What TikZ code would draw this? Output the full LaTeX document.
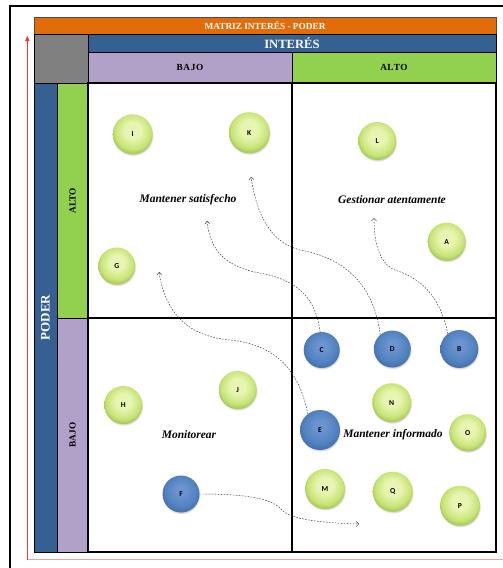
\documentclass[tikz,border=0pt]{standalone}
\usepackage{fontspec}
\setmainfont{Liberation Serif}
\newfontfamily\ballfont{Carlito}
\usetikzlibrary{arrows.meta,shadows,fadings}

% header and band colours
\definecolor{hdrOrange}{RGB}{227,108,10}
\definecolor{hdrBlue}{RGB}{54,96,146}
\definecolor{hdrGray}{RGB}{128,128,128}
\definecolor{lowPurple}{RGB}{177,160,199}
\definecolor{highGreen}{RGB}{146,208,80}
\definecolor{axisRed}{RGB}{235,60,60}
\definecolor{axisPink}{RGB}{244,160,160}

% sphere colours for the stakeholder bubbles
\definecolor{gsTop}{RGB}{232,245,178}
\definecolor{gsMid}{RGB}{200,228,118}
\definecolor{gsRim}{RGB}{158,198,78}
\definecolor{bsTop}{RGB}{108,148,208}
\definecolor{bsMid}{RGB}{82,131,192}
\definecolor{bsRim}{RGB}{66,108,170}

\pgfdeclareradialshading{greensphere}{\pgfpoint{0bp}{6bp}}{%
  color(0bp)=(gsTop); color(10bp)=(gsTop); color(22bp)=(gsMid);
  color(28bp)=(gsRim); color(50bp)=(gsRim)}
\pgfdeclareradialshading{bluesphere}{\pgfpoint{0bp}{6bp}}{%
  color(0bp)=(bsTop); color(6bp)=(bsTop); color(20bp)=(bsMid);
  color(29bp)=(bsRim); color(50bp)=(bsRim)}

\tikzset{
  cell/.style={anchor=north west, draw=black, line width=1pt,
    inner sep=0pt, outer sep=0pt},
  hdrtext/.style={font=\bfseries\fontsize{9.3}{10}\selectfont},
  bigtext/.style={font=\bfseries\fontsize{12.6}{14}\selectfont, text=white},
  quadlabel/.style={font=\bfseries\itshape\fontsize{11.5}{13}\selectfont},
  ball/.style={circle, minimum size=38pt, inner sep=0pt,
    font=\ballfont\bfseries\fontsize{7.6}{8}\selectfont,
    circular drop shadow={shadow scale=1.03, shadow xshift=0.4pt,
      shadow yshift=-1.2pt, opacity=0.35, fill=black!70}},
  gball/.style={ball, shading=greensphere},
  bball/.style={ball, shading=bluesphere},
  flow/.style={draw=black!80, line width=0.45pt,
    dash pattern=on 1.6pt off 1.4pt,
    -{Straight Barb[length=2.5pt,width=5pt]}},
}

\begin{document}
\begin{tikzpicture}[x=1pt,y=-1pt]
\useasboundingbox (0,0) rectangle (503,568);
\fill[white] (0,0) rectangle (503,568);

% page frame
\draw[line width=2pt] (10,568) -- (10,6) -- (503,6);

% red axes
\coordinate (axO) at (27.3,559.5);
\coordinate (axTop) at (27.3,36);
\coordinate (axRight) at (503,559.5);
\draw[axisPink, line width=1.5pt] (axO) -- (axRight);
\draw[axisRed, line width=0.8pt, -{Triangle[length=5pt,width=4.5pt]}] (axO) -- (axTop);

% header rows
\node[cell, fill=hdrOrange, draw=black!70, minimum width=462pt, minimum height=16.3pt]
  (title) at (34,17.7) {};
\node[hdrtext, text=white] (titleTxt) at (title.center) {MATRIZ INTERÉS - PODER};
\node[cell, fill=hdrGray, minimum width=54pt, minimum height=49pt] (corner) at (34,34) {};
\node[cell, fill=hdrBlue, minimum width=408pt, minimum height=18pt] (interes) at (88,34) {};
\node[bigtext] (interesTxt) at (interes.center) {INTERÉS};
\node[cell, fill=lowPurple, minimum width=204pt, minimum height=31pt] (colLow) at (88,52) {};
\node[hdrtext] (colLowTxt) at (colLow.center) {B\kern0.6pt A\kern0.6pt J\kern0.6pt O};
\node[cell, fill=highGreen, minimum width=204pt, minimum height=31pt] (colHigh) at (292,52) {};
\node[hdrtext] (colHighTxt) at (colHigh.center) {A\kern0.3pt L\kern0.3pt T\kern0.3pt O};

% left bands
\node[cell, fill=hdrBlue, minimum width=23pt, minimum height=469pt] (poder) at (34,83) {};
\node[bigtext, font=\bfseries\fontsize{13}{14}\selectfont, rotate=90] (poderTxt) at (poder.center) {PODER};
\node[cell, fill=highGreen, minimum width=31pt, minimum height=235pt] (rowHigh) at (57,83) {};
\node[hdrtext, rotate=90] (rowHighTxt) at (rowHigh.center) {ALTO};
\node[cell, fill=lowPurple, minimum width=31pt, minimum height=234pt] (rowLow) at (57,318) {};
\node[hdrtext, rotate=90] (rowLowTxt) at (rowLow.center) {BAJO};

% quadrants
\node[cell, line width=1.2pt, minimum width=204pt, minimum height=235pt] (qHL) at (88,83) {};
\node[cell, line width=1.2pt, minimum width=204pt, minimum height=235pt] (qHH) at (292,83) {};
\node[cell, line width=1.2pt, minimum width=204pt, minimum height=234pt] (qLL) at (88,318) {};
\node[cell, line width=1.2pt, minimum width=204pt, minimum height=234pt] (qLH) at (292,318) {};

\node[quadlabel] (lblSat) at (188,200) {Mantener satisfecho};
\node[quadlabel] (lblGes) at (392,200) {Gestionar atentamente};
\node[quadlabel] (lblMon) at (189,435) {Monitorear};
\node[quadlabel] (lblInf) at (393,435) {Mantener informado};

% stakeholders
\node[gball, minimum size=40pt] (I) at (132.7,134.3) {I};
\node[gball, minimum size=41pt] (K) at (249.3,132.7) {K};
\node[gball, minimum size=37pt] (G) at (116.7,266) {G};
\node[gball] (L) at (377.3,141) {L};
\node[gball] (A) at (446.7,241.7) {A};
\node[gball] (H) at (123.3,405) {H};
\node[gball] (J) at (237.7,390) {J};
\node[bball, minimum size=37pt] (F) at (181,494) {F};
\node[bball, minimum size=36pt] (C) at (321.7,350) {C};
\node[bball, minimum size=37pt] (D) at (392.3,349) {D};
\node[bball] (B) at (459.3,349) {B};
\node[gball, minimum size=39pt] (N) at (391.7,402.7) {N};
\node[bball, minimum size=40pt] (E) at (320,430) {E};
\node[gball, minimum size=37pt] (O) at (467.7,432.7) {O};
\node[gball, minimum size=40pt] (M) at (325,489) {M};
\node[gball, minimum size=40pt] (Q) at (392.7,491.7) {Q};
\node[gball, minimum size=40pt] (P) at (460,505.7) {P};

% planned moves
\coordinate (tipC) at (207,221);
\coordinate (tipD) at (251,177);
\coordinate (tipB) at (374,218);
\coordinate (tipE) at (159,272);
\coordinate (tipF) at (359,524);

\draw[flow] (C.95) .. controls (316,300) and (300,282) .. (265,274)
  .. controls (225,268) and (210,250) .. (tipC);
\draw[flow] (D.130) .. controls (374,285) and (345,258) .. (300,250)
  .. controls (270,242) and (257,215) .. (tipD);
\draw[flow] (B.127) .. controls (440,295) and (420,278) .. (395,270)
  .. controls (378,263) and (374,240) .. (tipB);
\draw[flow] (E.127) .. controls (300,375) and (280,345) .. (230,340)
  .. controls (185,336) and (165,310) .. (tipE);
\draw[flow] (F.east) .. controls (245,494) and (272,498) .. (282,510)
  .. controls (290,519) and (320,523) .. (tipF);
\end{tikzpicture}
\end{document}
